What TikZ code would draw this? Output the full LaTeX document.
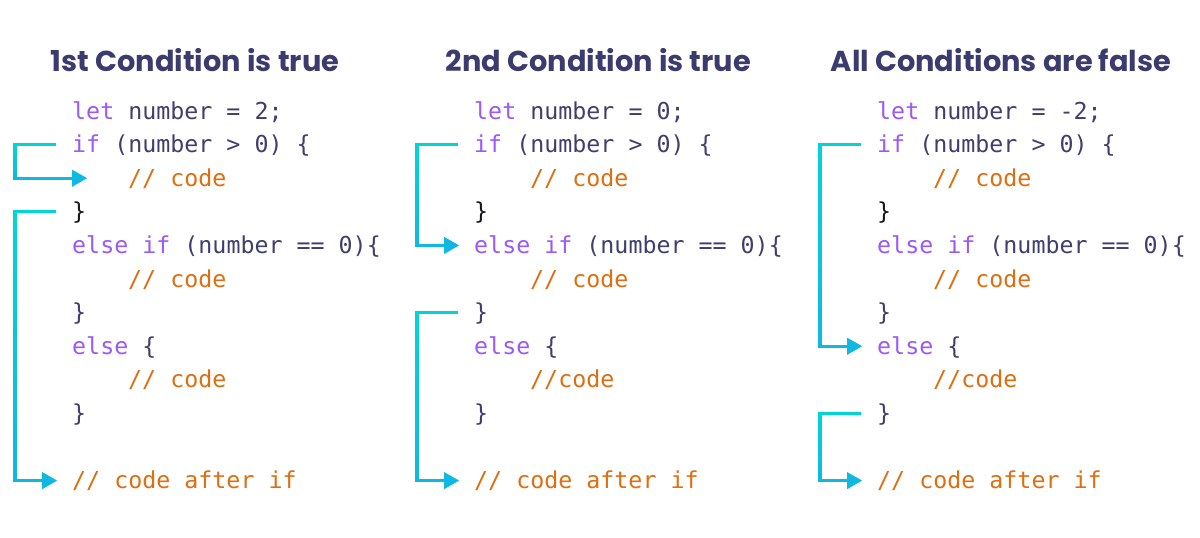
\documentclass[tikz,border=0pt]{standalone}
\usepackage{fontspec}
\setmonofont{DejaVu Sans Mono}
\newfontfamily\titlefont{Poppins}
\usetikzlibrary{arrows.meta,fadings}

\definecolor{headink}{RGB}{60,59,110}
\definecolor{plain}{RGB}{64,62,110}
\definecolor{keyword}{RGB}{155,89,245}
\definecolor{comment}{RGB}{222,110,16}
\definecolor{brace}{RGB}{22,22,28}
\definecolor{flowtop}{RGB}{0,214,214}
\definecolor{flowbot}{RGB}{16,184,226}

\newcommand\kw[1]{\textcolor{keyword}{#1}}
\newcommand\tx[1]{\textcolor{plain}{#1}}
\newcommand\cm[1]{\textcolor{comment}{#1}}
\newcommand\br[1]{\textcolor{brace}{#1}}

% a jump arrow, turquoise at the top fading into blue at the bottom
\newcommand\flow[1]{%
  \draw[flowline, flowtop] #1;
  \draw[flowline, flowbot, path fading=north] #1;}

\begin{document}
\begin{tikzpicture}[x=1pt, y=-1pt,
  code/.style={anchor=base west, inner sep=0pt, text height=20pt, text depth=4pt,
    font=\ttfamily\fontsize{23.3}{28}\selectfont},
  heading/.style={anchor=base, inner sep=0pt,
    font=\titlefont\bfseries\fontsize{28.8}{34}\selectfont, text=headink},
  flowline/.style={line width=3.2pt, line join=miter,
    -{Triangle[length=15pt, width=16pt]}}]

\useasboundingbox (0,0) rectangle (1200,538);

% ---------- column 1 ----------
\node[heading] (h1) at (195,71) {1st Condition is true};
\node[code] (a0)  at (72,119)    {\kw{let} \tx{number = 2;}};
\node[code] (a1)  at (72,152.6)  {\kw{if} \tx{(number > 0) \{}};
\node[code] (a2)  at (128,186.2) {\cm{// code}};
\node[code] (a3)  at (72,219.8)  {\br{\}}};
\node[code] (a4)  at (72,253.4)  {\kw{else if} \tx{(number == 0)\{}};
\node[code] (a5)  at (128,287)   {\cm{// code}};
\node[code] (a6)  at (72,320.6)  {\tx{\}}};
\node[code] (a7)  at (72,354.2)  {\kw{else} \tx{\{}};
\node[code] (a8)  at (128,387.8) {\cm{// code}};
\node[code] (a9)  at (72,421.4)  {\tx{\}}};
\node[code] (a11) at (72,488.6)  {\cm{// code after if}};
\coordinate (ra) at (15,0);

\flow{([xshift=-16pt]a1.west) -| (ra |- a2.west) -- ([xshift=-41pt]a2.west)}
\flow{([xshift=-16pt]a3.west) -| (ra |- a11.west) -- ([xshift=-15pt]a11.west)}

% ---------- column 2 ----------
\node[heading] (h2) at (598.5,71) {2nd Condition is true};
\node[code] (b0)  at (474,119)    {\kw{let} \tx{number = 0;}};
\node[code] (b1)  at (474,152.6)  {\kw{if} \tx{(number > 0) \{}};
\node[code] (b2)  at (530,186.2)  {\cm{// code}};
\node[code] (b3)  at (474,219.8)  {\br{\}}};
\node[code] (b4)  at (474,253.4)  {\kw{else if} \tx{(number == 0)\{}};
\node[code] (b5)  at (530,287)    {\cm{// code}};
\node[code] (b6)  at (474,320.6)  {\tx{\}}};
\node[code] (b7)  at (474,354.2)  {\kw{else} \tx{\{}};
\node[code] (b8)  at (530,387.8)  {\cm{//code}};
\node[code] (b9)  at (474,421.4)  {\tx{\}}};
\node[code] (b11) at (474,488.6)  {\cm{// code after if}};
\coordinate (rb) at (417,0);

\flow{([xshift=-16pt]b1.west) -| (rb |- b4.west) -- ([xshift=-15pt]b4.west)}
\flow{([xshift=-16pt]b6.west) -| (rb |- b11.west) -- ([xshift=-15pt]b11.west)}

% ---------- column 3 ----------
\node[heading] (h3) at (1001,71) {All Conditions are false};
\node[code] (c0)  at (877,119)    {\kw{let} \tx{number = -2;}};
\node[code] (c1)  at (877,152.6)  {\kw{if} \tx{(number > 0) \{}};
\node[code] (c2)  at (933,186.2)  {\cm{// code}};
\node[code] (c3)  at (877,219.8)  {\br{\}}};
\node[code] (c4)  at (877,253.4)  {\kw{else if} \tx{(number == 0)\{}};
\node[code] (c5)  at (933,287)    {\cm{// code}};
\node[code] (c6)  at (877,320.6)  {\tx{\}}};
\node[code] (c7)  at (877,354.2)  {\kw{else} \tx{\{}};
\node[code] (c8)  at (933,387.8)  {\cm{//code}};
\node[code] (c9)  at (877,421.4)  {\tx{\}}};
\node[code] (c11) at (877,488.6)  {\cm{// code after if}};
\coordinate (rc) at (820,0);

\flow{([xshift=-16pt]c1.west) -| (rc |- c7.west) -- ([xshift=-15pt]c7.west)}
\flow{([xshift=-16pt]c9.west) -| (rc |- c11.west) -- ([xshift=-15pt]c11.west)}

\end{tikzpicture}
\end{document}
